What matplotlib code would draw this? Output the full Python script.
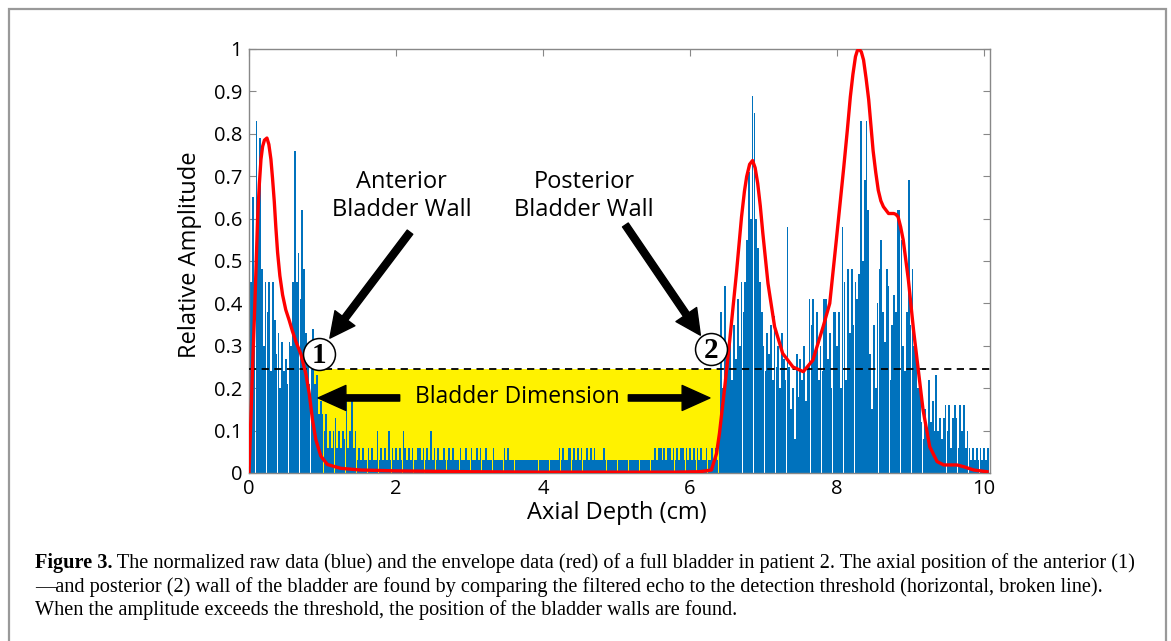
import numpy as np
import matplotlib
matplotlib.use("Agg")
import matplotlib.pyplot as plt
from matplotlib.patches import Rectangle

# raw echo amplitude (hundredths), one sample every 0.025 cm, one row per half cm
raw_step = 0.025
raw_pct = [
    100, 45, 65, 40, 83, 65, 79, 48, 30, 45, 38, 45, 24, 45, 36, 28, 33, 20, 31, 24,
    27, 21, 31, 30, 45, 76, 45, 52, 41, 62, 48, 33, 28, 21, 27, 34, 21, 23, 14, 17,
    14, 10, 14, 6, 10, 6, 10, 13, 6, 10, 6, 10, 8, 17, 6, 10, 17, 6, 10, 3,
    6, 3, 6, 3, 3, 6, 3, 6, 3, 3, 10, 3, 6, 3, 6, 3, 10, 3, 6, 3,
    6, 3, 6, 3, 10, 6, 3, 6, 3, 6, 3, 3, 6, 6, 3, 6, 3, 6, 3, 10,
    3, 6, 3, 6, 3, 3, 6, 3, 3, 6, 3, 6, 3, 3, 3, 6, 3, 3, 6, 3,
    3, 6, 3, 3, 6, 3, 6, 3, 3, 6, 3, 3, 3, 6, 3, 3, 3, 3, 3, 6,
    3, 6, 3, 3, 3, 3, 3, 3, 3, 3, 3, 3, 3, 3, 3, 3, 3, 3, 3, 3,
    3, 3, 3, 3, 3, 3, 3, 3, 3, 6, 3, 6, 3, 3, 6, 6, 3, 6, 3, 6,
    3, 6, 3, 3, 6, 3, 6, 3, 6, 3, 3, 3, 3, 6, 3, 3, 3, 3, 3, 3,
    3, 3, 3, 3, 3, 3, 3, 3, 3, 3, 3, 3, 3, 3, 3, 3, 3, 3, 3, 3,
    3, 6, 3, 6, 6, 3, 6, 3, 6, 6, 3, 6, 3, 6, 3, 6, 6, 3, 6, 3,
    6, 3, 6, 3, 6, 3, 6, 3, 3, 6, 3, 3, 6, 3, 6, 3, 12, 38, 20, 44,
    30, 28, 31, 22, 35, 27, 41, 30, 45, 38, 45, 55, 71, 60, 89, 85, 60, 53, 45, 38,
    30, 24, 33, 28, 35, 22, 37, 25, 30, 20, 33, 27, 22, 58, 25, 15, 20, 8, 28, 18,
    27, 22, 30, 17, 25, 41, 35, 41, 28, 38, 22, 30, 24, 41, 41, 27, 33, 20, 38, 38,
    30, 38, 20, 58, 45, 22, 48, 33, 48, 35, 45, 41, 47, 83, 50, 69, 83, 62, 28, 15,
    35, 20, 40, 48, 55, 38, 31, 48, 44, 22, 35, 42, 38, 62, 62, 55, 30, 24, 38, 69,
    35, 48, 30, 30, 20, 22, 12, 8, 15, 10, 22, 12, 17, 10, 23, 10, 13, 8, 13, 16,
    10, 16, 6, 13, 16, 13, 6, 16, 10, 16, 6, 10, 6, 3, 6, 3, 6, 3, 6, 3,
    6, 3, 6,
]

# envelope (red)
env_x = [0.0, 0.03, 0.05, 0.072, 0.095, 0.117, 0.14, 0.163, 0.185, 0.21, 0.244, 0.27,
         0.298, 0.32, 0.344, 0.365, 0.389, 0.42, 0.457, 0.5, 0.547, 0.59, 0.638, 0.706,
         0.773, 0.819, 0.864, 0.91, 0.977, 1.067, 1.248, 1.52, 2.0, 3.0, 4.0, 5.0,
         5.8, 6.13, 6.29, 6.36, 6.4, 6.47, 6.54, 6.63, 6.7, 6.74, 6.77, 6.81, 6.85, 6.885,
         6.92, 6.955, 6.99, 7.06, 7.15, 7.26, 7.4, 7.54, 7.67, 7.81, 7.9, 7.99,
         8.09, 8.14, 8.18, 8.215, 8.25, 8.275, 8.3, 8.33, 8.36, 8.395, 8.43, 8.46,
         8.49, 8.525, 8.56, 8.595, 8.63, 8.7, 8.77, 8.8, 8.83, 8.865, 8.9, 8.97,
         9.04, 9.11, 9.17, 9.26, 9.36, 9.45, 9.63, 9.72, 9.86, 10.04]
env_y = [0.0, 0.15, 0.26, 0.36, 0.48, 0.6, 0.68, 0.74, 0.77, 0.785, 0.79, 0.775,
         0.74, 0.695, 0.64, 0.58, 0.52, 0.465, 0.42, 0.385, 0.36, 0.335, 0.31, 0.28,
         0.234, 0.188, 0.125, 0.078, 0.04, 0.02, 0.011, 0.007, 0.005, 0.003, 0.002, 0.002,
         0.002, 0.003, 0.007, 0.046, 0.094, 0.2, 0.314, 0.47, 0.604, 0.665, 0.699, 0.728, 0.737, 0.72,
         0.683, 0.63, 0.565, 0.447, 0.345, 0.282, 0.25, 0.239, 0.266, 0.345, 0.4, 0.55,
         0.72, 0.81, 0.887, 0.94, 0.982, 0.996, 1.0, 0.993, 0.974, 0.93, 0.88, 0.82,
         0.76, 0.71, 0.667, 0.642, 0.628, 0.612, 0.612, 0.61, 0.604, 0.58, 0.549, 0.455,
         0.337, 0.235, 0.148, 0.062, 0.027, 0.019, 0.019, 0.015, 0.007, 0.003]

threshold = 0.245
wall_anterior = 0.87
wall_posterior = 6.44

xticks = [0, 2, 4, 6, 8, 10]
yticks = [0, 0.1, 0.2, 0.3, 0.4, 0.5, 0.6, 0.7, 0.8, 0.9, 1]
ytick_labels = ["0", "0.1", "0.2", "0.3", "0.4", "0.5", "0.6", "0.7", "0.8", "0.9", "1"]

caption_bold = "Figure 3."
caption_lines = [
    " The normalized raw data (blue) and the envelope data (red) of a full bladder in patient 2. The axial position of the anterior (1)",
    "\u2014and posterior (2) wall of the bladder are found by comparing the filtered echo to the detection threshold (horizontal, broken line).",
    "When the amplitude exceeds the threshold, the position of the bladder walls are found.",
]

plt.rcParams["font.family"] = ["Open Sans", "DejaVu Sans"]

W, H = 1171, 641
fig = plt.figure(figsize=(W / 100, H / 100), dpi=100)
ax = fig.add_axes([249 / W, 1 - 473 / H, 741 / W, 424 / H])

raw = np.array(raw_pct) / 100.0
raw_x = np.arange(len(raw)) * raw_step

ax.add_patch(Rectangle((wall_anterior, 0), wall_posterior - wall_anterior, threshold,
                       facecolor="#FFF200", edgecolor="none", zorder=1))
ax.bar(raw_x, raw, width=raw_step * 0.92, color="#0072BD", linewidth=0, zorder=2)
ax.axhline(threshold, color="black", lw=1.3, ls=(0, (4, 3)), zorder=3)
ax.plot(env_x, env_y, color="#FF0000", lw=2.4, solid_joinstyle="round", zorder=4)

ax.set_xlim(0, 10.08)
ax.set_ylim(0, 1)
ax.set_xticks(xticks)
ax.set_yticks(yticks)
ax.set_yticklabels(ytick_labels)
for sp in ax.spines.values():
    sp.set_color("#888888")
    sp.set_linewidth(1.0)
ax.tick_params(direction="in", top=True, right=True, length=5, color="#888888",
               labelsize=14.5, labelcolor="black")
ax.tick_params(axis="y", pad=5)
ax.tick_params(axis="x", pad=4)

ax.set_xlabel("Axial Depth (cm)", fontsize=17)
ax.xaxis.set_label_coords(0.497, -0.066)
ax.set_ylabel("Relative Amplitude", fontsize=17)
ax.yaxis.set_label_coords(-0.063, 0.514)

# annotations
ax.text(2.08, 0.654, "Anterior\nBladder Wall", ha="center", va="center",
        fontsize=17, linespacing=1.2, zorder=6)
ax.text(4.56, 0.654, "Posterior\nBladder Wall", ha="center", va="center",
        fontsize=17, linespacing=1.2, zorder=6)
arrow_kw = dict(facecolor="black", edgecolor="black", width=5, headwidth=18,
                headlength=18, shrink=0)
ax.annotate("", xy=(1.10, 0.318), xytext=(2.19, 0.568), arrowprops=arrow_kw, zorder=6)
ax.annotate("", xy=(6.14, 0.325), xytext=(5.12, 0.585), arrowprops=arrow_kw, zorder=6)

ax.text(3.65, 0.18, "Bladder Dimension", ha="center", va="center", fontsize=16.5, zorder=6)
hkw = dict(facecolor="black", edgecolor="black", width=4.5, headwidth=18,
           headlength=20, shrink=0)
ax.annotate("", xy=(0.94, 0.177), xytext=(2.05, 0.177), arrowprops=hkw, zorder=6)
ax.annotate("", xy=(6.27, 0.177), xytext=(5.16, 0.177), arrowprops=hkw, zorder=6)

for cx, cy, lab in [(0.948, 0.281, "1"), (6.29, 0.292, "2")]:
    ax.plot([cx], [cy], "o", ms=23, mfc="white", mec="black", mew=1.1, zorder=7)
    ax.text(cx, cy - 0.004, lab, ha="center", va="center", fontsize=21, fontweight="bold",
            family="Liberation Serif", zorder=8)

# caption
fig.canvas.draw()
renderer = fig.canvas.get_renderer()
cap_x = 35 / W
cap_y = [563, 587, 610]
cap_size = 14.6
t_bold = fig.text(cap_x, 1 - cap_y[0] / H, caption_bold, fontsize=cap_size, fontweight="bold",
                  family="Liberation Serif", va="center", ha="left")
bb = t_bold.get_window_extent(renderer)
fig.text(bb.x1 / W, 1 - cap_y[0] / H, caption_lines[0], fontsize=cap_size,
         family="Liberation Serif", va="center", ha="left")
for line, yy in zip(caption_lines[1:], cap_y[1:]):
    fig.text(cap_x, 1 - yy / H, line, fontsize=cap_size, family="Liberation Serif",
             va="center", ha="left")

# page frame
fig.add_artist(Rectangle((9 / W, -0.05), (1166 - 9) / W, 1.05 - 9.5 / H,
                         transform=fig.transFigure, fill=False, edgecolor="#999999",
                         lw=1.6, clip_on=False))

fig.savefig("out.png", dpi=100)
